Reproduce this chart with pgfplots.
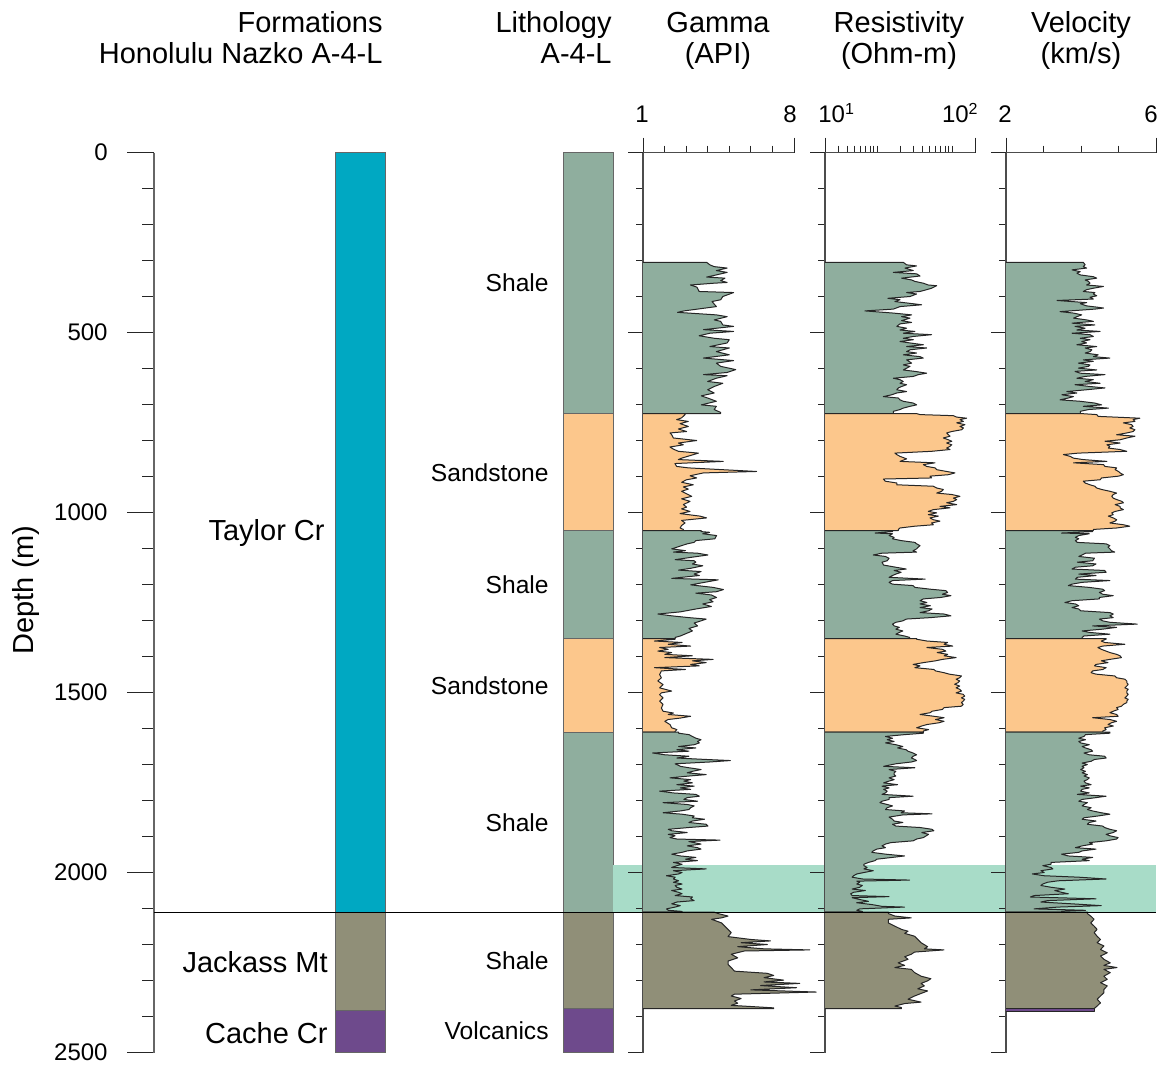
\documentclass[border=0pt]{standalone}
\usepackage{fontspec}
\setmainfont{Liberation Sans}
\usepackage{pgfplots}
\pgfplotsset{compat=1.18}

\definecolor{taylor}{HTML}{00A8C2}
\definecolor{shale}{HTML}{8FAE9E}
\definecolor{sand}{HTML}{FCC78C}
\definecolor{jackass}{HTML}{908F78}
\definecolor{cache}{HTML}{6E4A8C}
\definecolor{band}{HTML}{A8DCC8}

\newcommand\bigfont{\fontsize{14.5pt}{17pt}\selectfont}
\newcommand\midfont{\fontsize{12.3pt}{14pt}\selectfont}
\newcommand\smallfont{\fontsize{12pt}{14pt}\selectfont}

\pgfplotsset{
  noarrows/.style={
    every outer x axis line/.append style={-},
    every outer y axis line/.append style={-},
    every inner x axis line/.append style={-},
    every inner y axis line/.append style={-},
  },
  track/.style={
    anchor=south west, scale only axis, width=75pt, height=450pt,
    ymin=0, ymax=2500, y dir=reverse,
    axis x line*=top, axis y line*=left, noarrows,
    tick align=outside,
    ytick={0,500,...,2500}, minor ytick={0,100,...,2500},
    yticklabels={}, xticklabels={},
    major tick length=7.5pt, minor tick length=3.5pt,
    clip=false,
    axis line style={black!70, line width=0.6pt},
    every tick/.style={black!85, line width=0.5pt},
  },
  logfill/.style={fill=#1, draw=black!85, line width=0.5pt, line join=round},
  box/.style={fill=#1, draw=black!60, line width=0.5pt},
}

\begin{document}
\begin{tikzpicture}
\path[use as bounding box] (0,0) rectangle (582pt,533.5pt);

% depth axis with formation and lithology columns (x in picture units)
\begin{axis}[
  at={(77pt,7.25pt)}, anchor=south west, scale only axis,
  width=501pt, height=450pt,
  xmin=154, xmax=1156, ymin=0, ymax=2500, y dir=reverse,
  axis x line=none, axis y line*=left, noarrows,
  tick align=outside,
  ytick={0,500,...,2500}, minor ytick={0,100,...,2500}, yticklabels={},
  major tick length=13.5pt, minor tick length=6pt,
  axis line style={black!60, line width=0.75pt},
  every tick/.style={black!85, line width=0.5pt},
  clip=false,
]
% formations
\addplot[box=taylor]  coordinates {(335,0)(385,0)(385,2110)(335,2110)(335,0)};
\addplot[box=jackass] coordinates {(335,2110)(385,2110)(385,2383)(335,2383)(335,2110)};
\addplot[box=cache]   coordinates {(335,2383)(385,2383)(385,2500)(335,2500)(335,2383)};
% lithology
\addplot[box=shale]   coordinates {(563,0)(613,0)(613,725)(563,725)(563,0)};
\addplot[box=sand]    coordinates {(563,725)(613,725)(613,1050)(563,1050)(563,725)};
\addplot[box=shale]   coordinates {(563,1050)(613,1050)(613,1350)(563,1350)(563,1050)};
\addplot[box=sand]    coordinates {(563,1350)(613,1350)(613,1610)(563,1610)(563,1350)};
\addplot[box=shale]   coordinates {(563,1610)(613,1610)(613,2110)(563,2110)(563,1610)};
\addplot[box=jackass] coordinates {(563,2110)(613,2110)(613,2378)(563,2378)(563,2110)};
\addplot[box=cache]   coordinates {(563,2378)(613,2378)(613,2500)(563,2500)(563,2378)};
% highlighted interval
\addplot[fill=band, draw=none] coordinates {(613,1980)(1156,1980)(1156,2110)(613,2110)};
\end{axis}

% Gamma (API)
\begin{axis}[track, at={(321.5pt,7.25pt)}, width=75.5pt,
  xmin=1, xmax=8, xtick={1,8}, minor xtick={2,...,7}]
\addplot[logfill=shale] coordinates {(1,305)(3.95,305)(4.1,312)(4.3,317)(4.9,321)(4.4,328)(4.9,333)(4.4,340)(3.95,346)(4.8,349)(4.6,356)(4.9,361)(4.3,363)(3.2,368)(3.5,374)(3.6,386)(5.2,389)(4.7,400)(4.6,409)(4.2,414)(4.4,428)(2.9,440)(2.6,444)(4.4,451)(4.9,456)(4.3,465)(4.6,469)(4.7,479)(5.2,483)(3.8,492)(5.2,497)(4.1,502)(3.6,509)(4.3,516)(5.0,520)(4.9,529)(4.1,539)(5.0,543)(4.4,553)(5.0,562)(3.8,571)(5.2,578)(4.4,585)(4.6,594)(5.3,603)(4.9,611)(3.8,617)(4.9,620)(4.4,627)(4.0,636)(4.7,641)(4.3,650)(4.0,659)(4.3,668)(3.7,676)(4.0,682)(4.4,691)(3.7,701)(4.4,705)(4.3,714)(4.6,722)(4.6,725)(1,725)};
\addplot[logfill=sand] coordinates {(1,725)(2.95,725)(2.95,728)(2.79,737)(2.56,742)(3.10,747)(2.72,753)(3.10,761)(2.64,768)(3.02,775)(2.25,779)(2.33,784)(2.41,793)(3.49,800)(2.64,807)(2.87,812)(2.25,818)(2.41,824)(2.64,830)(3.57,835)(3.18,842)(2.79,849)(2.64,853)(4.72,858)(2.48,864)(2.56,872)(3.10,876)(6.27,886)(3.80,890)(3.18,898)(3.49,904)(3.02,909)(2.79,916)(3.33,923)(2.87,929)(3.10,935)(2.79,941)(3.02,948)(3.26,955)(2.79,962)(3.18,969)(2.87,978)(3.02,985)(2.79,990)(3.18,997)(2.72,1003)(3.64,1010)(3.95,1015)(2.79,1022)(2.95,1029)(2.79,1036)(2.72,1043)(2.87,1047)(2.87,1050)(1,1050)};
\addplot[logfill=shale] coordinates {(1,1050)(3.7,1050)(3.69,1053)(4.09,1055)(3.77,1059)(4.41,1064)(4.33,1073)(3.45,1078)(3.37,1083)(3.05,1087)(2.33,1101)(2.97,1106)(2.41,1110)(3.53,1113)(4.01,1118)(3.29,1124)(2.49,1131)(3.37,1134)(3.45,1138)(3.29,1143)(3.77,1148)(3.21,1155)(2.65,1160)(3.69,1164)(3.37,1171)(3.61,1175)(2.33,1183)(4.49,1187)(3.85,1194)(3.21,1201)(4.25,1208)(4.73,1214)(4.41,1220)(3.45,1224)(4.17,1229)(4.41,1236)(4.09,1242)(4.25,1248)(3.77,1254)(4.17,1261)(3.45,1268)(2.73,1276)(1.69,1282)(2.33,1287)(3.13,1292)(3.93,1296)(3.69,1301)(3.37,1307)(3.53,1315)(3.13,1322)(3.29,1329)(3.05,1335)(2.73,1343)(2.49,1347)(2.49,1350)(1,1350)};
\addplot[logfill=sand] coordinates {(1,1350)(2.49,1350)(2.49,1352)(1.53,1357)(2.81,1361)(2.17,1366)(3.21,1371)(1.77,1375)(2.17,1380)(1.69,1385)(2.33,1389)(2.01,1394)(3.29,1398)(2.01,1403)(4.25,1408)(3.29,1412)(3.93,1417)(3.21,1422)(3.61,1426)(1.53,1431)(2.97,1436)(1.85,1440)(1.77,1450)(1.85,1459)(1.69,1468)(1.93,1478)(1.77,1487)(2.33,1496)(1.85,1501)(1.77,1506)(1.93,1515)(1.77,1524)(1.93,1533)(1.85,1543)(1.93,1552)(2.41,1557)(2.17,1561)(3.21,1566)(2.73,1571)(2.17,1575)(2.01,1580)(2.25,1589)(2.33,1598)(2.57,1603)(2.49,1608)(2.49,1610)(1,1610)};
\addplot[logfill=shale] coordinates {(1,1610)(2.65,1610)(2.65,1613)(3.13,1617)(3.29,1622)(3.45,1627)(3.69,1631)(3.53,1636)(3.61,1640)(3.37,1645)(2.65,1650)(3.45,1654)(2.57,1659)(3.13,1663)(1.45,1668)(2.01,1673)(3.13,1677)(2.57,1682)(3.93,1686)(5.05,1689)(4.09,1693)(2.49,1698)(2.73,1705)(3.13,1709)(3.69,1714)(3.29,1719)(3.05,1723)(3.93,1728)(3.13,1732)(2.25,1737)(3.21,1742)(2.89,1746)(3.29,1751)(2.57,1756)(3.37,1760)(2.73,1765)(3.21,1769)(1.77,1774)(2.41,1779)(3.45,1783)(3.61,1788)(3.05,1792)(2.89,1797)(3.53,1802)(1.93,1806)(3.05,1811)(3.37,1815)(3.21,1820)(3.13,1825)(2.73,1829)(1.93,1834)(2.81,1838)(3.37,1843)(3.29,1848)(3.85,1852)(3.29,1857)(3.13,1861)(3.93,1866)(4.01,1871)(3.13,1875)(2.17,1880)(2.33,1884)(3.05,1889)(2.17,1894)(2.49,1898)(2.25,1903)(2.57,1907)(4.57,1910)(3.13,1914)(3.69,1921)(3.05,1926)(3.53,1931)(3.69,1935)(3.05,1940)(2.81,1944)(2.33,1949)(2.73,1954)(3.45,1958)(2.97,1963)(3.53,1967)(2.41,1972)(2.81,1977)(2.57,1981)(2.33,1986)(3.93,1990)(2.41,1995)(2.81,2000)(2.65,2004)(2.09,2009)(2.49,2013)(2.41,2018)(2.65,2023)(2.41,2027)(2.81,2032)(2.49,2036)(2.57,2041)(2.81,2046)(2.33,2050)(2.65,2055)(2.81,2059)(2.49,2064)(3.29,2068)(3.21,2073)(3.37,2078)(2.57,2082)(2.33,2087)(2.73,2092)(2.49,2096)(2.09,2101)(2.17,2105)(2.81,2108)(2.81,2110)(1,2110)};
\addplot[logfill=jackass] coordinates {(1,2110)(4.3,2110)(4.48,2114)(4.94,2121)(4.64,2126)(4.18,2130)(4.64,2140)(4.79,2149)(4.94,2158)(5.09,2167)(4.94,2178)(6.0,2186)(6.91,2190)(5.55,2195)(6.76,2200)(5.39,2206)(6.61,2212)(8.73,2215)(5.70,2218)(5.09,2227)(5.39,2237)(4.94,2246)(4.94,2255)(5.09,2264)(5.24,2274)(6.76,2280)(7.06,2286)(6.61,2292)(7.52,2299)(6.61,2304)(8.27,2308)(6.45,2314)(8.12,2320)(6.0,2326)(9.03,2332)(5.24,2338)(5.09,2343)(5.55,2350)(5.24,2357)(5.39,2363)(5.09,2369)(7.06,2376)(7.06,2378)(1,2378)};
\end{axis}

% Resistivity (Ohm-m), logarithmic
\begin{axis}[track, at={(412.5pt,7.25pt)},
  xmode=log, xmin=2, xmax=200, xtick={2,200},
  minor xtick={3,4,5,6,7,8,9,10,20,30,40,50,60,70,80,90,100}]
\addplot[logfill=shale] coordinates {(2,305)(22.1,305)(24.5,312)(33.3,315)(23.3,321)(30.1,328)(16.3,333)(33.3,337)(37.0,343)(21,349)(28.6,354)(31.6,358)(40.9,363)(47.7,368)(61.7,370)(52.8,377)(45.4,381)(37.0,386)(24.5,389)(33.3,393)(27.2,400)(13.8,405)(20.0,409)(17.1,414)(27.2,419)(38.9,423)(20.0,428)(16.3,435)(6.8,440)(16.3,446)(28.6,451)(21,456)(27.2,460)(21,467)(28.6,472)(20.0,476)(18.1,483)(24.5,488)(20.0,493)(31.6,497)(22.1,502)(52.8,506)(30.1,511)(22.1,516)(30.1,520)(20.0,525)(27.2,529)(40.9,534)(24.5,539)(45.4,543)(27.2,548)(24.5,553)(33.3,557)(22.1,562)(37.0,567)(40.9,571)(24.5,576)(28.6,585)(22.1,590)(27.2,594)(24.5,599)(22.1,604)(31.6,608)(45.4,613)(35.1,617)(30.1,622)(16.3,627)(20.0,631)(22.1,636)(20.0,641)(24.5,645)(21,650)(19.0,654)(18.1,659)(24.5,664)(18.1,668)(15.5,673)(12.0,678)(19.0,682)(20.0,687)(22.1,691)(30.1,696)(33.3,701)(27.2,705)(22.1,710)(20.0,714)(16.3,719)(16.3,725)(2,725)};
\addplot[logfill=sand] coordinates {(2,725)(33,725)(37.0,728)(103,731)(114,735)(155,738)(126,742)(140,747)(114,751)(147,756)(126,761)(140,765)(133,770)(98,775)(83.8,779)(88.4,784)(92.9,788)(75.6,793)(88.4,798)(98,802)(83.8,807)(98,812)(92.9,816)(83.8,821)(92.9,825)(52.8,830)(17.1,835)(18.1,839)(20.0,844)(24.5,851)(20.0,858)(58.6,862)(40.9,867)(45.4,872)(58.6,876)(61.7,881)(83.8,886)(108,890)(88.4,895)(50.2,899)(52.8,904)(12.0,907)(12.7,913)(18.1,918)(18.1,923)(55.6,927)(61.7,932)(75.6,936)(71.8,941)(61.7,946)(98,950)(126,955)(103,960)(114,964)(103,969)(83.8,973)(114,978)(68.2,983)(92.9,987)(55.6,992)(47.7,997)(61.7,1001)(47.7,1006)(64.9,1010)(50.2,1015)(55.6,1020)(68.2,1024)(52.8,1029)(55.6,1034)(31.6,1038)(20.0,1043)(19.0,1047)(19.0,1050)(2,1050)};
\addplot[logfill=shale] coordinates {(2,1050)(15.9,1050)(15.9,1053)(9.3,1057)(15.9,1059)(14.3,1064)(16.7,1069)(15.9,1073)(20.7,1078)(31.6,1083)(33.3,1087)(37.0,1092)(35.1,1096)(33.3,1101)(29.9,1106)(33.3,1110)(11.5,1113)(8.8,1118)(12.8,1122)(14.3,1127)(13.5,1134)(11.5,1138)(12.1,1146)(17.6,1152)(24.2,1157)(16.7,1161)(20.7,1166)(17.6,1171)(15.9,1175)(14.3,1180)(43.3,1185)(15.9,1189)(14.3,1194)(15.9,1199)(29.9,1203)(31.6,1208)(50.7,1213)(81.7,1217)(86.3,1222)(73.5,1227)(95.7,1231)(69.8,1236)(41.0,1240)(37.0,1245)(45.7,1250)(37.0,1254)(50.7,1259)(37.0,1264)(53.5,1268)(48.1,1273)(37.0,1278)(77.4,1282)(95.7,1287)(50.7,1292)(24.2,1296)(21.8,1301)(17.6,1305)(15.9,1310)(16.7,1315)(19.6,1319)(17.6,1324)(21.8,1329)(19.6,1333)(17.6,1338)(23.0,1343)(26.9,1347)(26.9,1350)(2,1350)};
\addplot[logfill=sand] coordinates {(2,1350)(33.3,1350)(33.3,1352)(45.7,1357)(86.3,1361)(77.4,1366)(101,1371)(45.7,1375)(73.5,1380)(81.7,1385)(62.7,1389)(86.3,1394)(77.4,1398)(112,1403)(73.5,1408)(59.5,1412)(41.0,1417)(29.9,1422)(37.0,1426)(31.6,1431)(56.5,1436)(59.5,1440)(77.4,1445)(90.9,1449)(132,1454)(125,1459)(112,1463)(125,1468)(118,1473)(107,1477)(125,1482)(112,1487)(125,1491)(132,1496)(112,1501)(139,1505)(146,1510)(132,1515)(146,1519)(139,1524)(132,1528)(139,1533)(132,1538)(77.4,1542)(73.5,1547)(53.5,1552)(50.7,1556)(37.0,1561)(56.5,1566)(77.4,1570)(59.5,1575)(77.4,1580)(66.2,1584)(45.7,1589)(39.0,1593)(33.3,1598)(48.1,1603)(41.0,1607)(41.0,1610)(2,1610)};
\addplot[logfill=shale] coordinates {(2,1610)(41.0,1610)(41.0,1613)(23.0,1617)(12.8,1622)(15.9,1627)(13.5,1631)(16.7,1636)(12.8,1640)(17.6,1645)(21.8,1650)(18.6,1654)(24.2,1659)(25.5,1663)(29.9,1668)(33.3,1673)(29.9,1677)(28.4,1682)(31.6,1686)(33.3,1689)(28.4,1693)(17.6,1698)(12.1,1705)(31.6,1709)(14.3,1714)(17.6,1719)(16.7,1723)(16.7,1728)(17.6,1732)(14.3,1737)(16.7,1742)(14.3,1746)(12.1,1751)(18.6,1756)(11.5,1760)(14.3,1765)(12.1,1769)(13.5,1774)(12.8,1779)(11.5,1783)(29.9,1788)(14.3,1792)(14.3,1797)(11.5,1802)(10.8,1806)(13.5,1811)(15.9,1815)(13.5,1820)(12.8,1825)(23.0,1829)(20.7,1834)(53.5,1837)(21.8,1840)(14.3,1846)(15.9,1852)(16.7,1857)(21.8,1861)(15.9,1866)(17.6,1871)(37.0,1875)(53.5,1880)(56.5,1884)(39.0,1889)(48.1,1894)(41.0,1903)(33.3,1907)(29.9,1912)(15.1,1917)(12.8,1921)(11.5,1926)(12.8,1931)(9.8,1935)(8.8,1940)(8.4,1944)(12.8,1949)(23.0,1954)(15.9,1958)(9.8,1963)(9.3,1967)(7.6,1972)(6.6,1977)(6.6,1981)(7.3,1986)(6.6,1990)(8.8,1995)(6.6,2000)(5.3,2004)(4.8,2009)(4.6,2013)(6.3,2018)(26.9,2021)(5.3,2024)(5.8,2027)(5.3,2032)(6.3,2036)(5.8,2041)(4.6,2046)(6.9,2050)(4.8,2055)(4.4,2059)(4.6,2064)(14.3,2067)(4.6,2070)(5.8,2075)(7.6,2080)(5.3,2084)(8.4,2089)(11.5,2094)(23.0,2096)(5.8,2101)(5.3,2105)(6.3,2108)(6.3,2110)(2,2110)};
\addplot[logfill=jackass] coordinates {(2,2110)(14.0,2110)(14.0,2114)(17.1,2121)(28.3,2126)(14.0,2130)(14.0,2140)(17.1,2149)(20.9,2158)(25.6,2163)(23.1,2169)(31.3,2177)(34.5,2186)(38.2,2195)(46.7,2206)(42.2,2212)(77.1,2215)(31.3,2221)(28.3,2227)(23.1,2234)(25.6,2241)(18.9,2251)(23.1,2258)(17.1,2264)(28.3,2269)(31.3,2278)(38.2,2288)(51.6,2295)(46.7,2301)(38.2,2308)(42.2,2315)(34.5,2323)(46.7,2329)(38.2,2336)(31.3,2343)(25.6,2352)(38.2,2360)(23.1,2364)(17.1,2371)(20.9,2375)(20.9,2378)(2,2378)};
\end{axis}

% Velocity (km/s)
\begin{axis}[track, at={(503pt,7.25pt)},
  xmin=2, xmax=6, xtick={2,6}, minor xtick={3,4,5}]
\addplot[logfill=shale] coordinates {(2,305)(4.06,305)(4.11,312)(4.06,317)(4.15,321)(3.76,326)(3.98,331)(3.89,335)(3.98,340)(4.33,345)(4.42,349)(4.11,354)(4.20,358)(4.24,363)(4.15,368)(4.60,372)(4.33,377)(4.15,381)(4.06,386)(4.37,389)(4.33,393)(4.42,398)(4.24,402)(4.33,407)(3.36,411)(4.15,417)(3.98,420)(4.15,426)(4.46,430)(4.60,432)(4.37,435)(3.44,442)(3.80,446)(4.02,451)(3.89,456)(3.80,460)(4.15,465)(4.33,469)(3.76,474)(4.37,479)(3.84,483)(4.11,488)(3.89,493)(4.51,497)(3.76,502)(4.24,506)(4.33,511)(3.98,516)(4.24,520)(4.02,525)(4.15,529)(3.89,534)(4.42,539)(4.11,543)(4.29,548)(4.24,553)(4.11,557)(4.46,562)(4.33,567)(4.77,571)(4.06,576)(4.33,580)(3.93,585)(4.24,590)(4.20,594)(3.93,599)(4.42,604)(3.84,608)(3.98,613)(4.64,617)(4.11,622)(3.89,627)(4.33,631)(4.11,636)(4.51,641)(3.84,645)(4.24,650)(4.64,654)(4.15,659)(3.62,664)(3.89,668)(3.49,673)(3.80,678)(3.66,682)(3.44,687)(3.98,691)(4.37,696)(4.55,701)(4.06,705)(4.73,710)(4.20,714)(3.98,719)(3.98,725)(2,725)};
\addplot[logfill=sand] coordinates {(2,725)(3.98,725)(4.42,728)(4.46,733)(5.57,738)(5.39,742)(5.44,747)(5.13,751)(5.35,756)(5.39,761)(5.30,765)(5.44,770)(5.39,775)(5.22,779)(4.95,784)(5.44,788)(5.22,793)(5.04,798)(4.64,802)(5.04,807)(4.69,812)(4.77,816)(4.73,821)(5.04,825)(5.22,830)(3.93,835)(3.53,839)(3.71,844)(3.80,849)(4.06,853)(4.69,858)(3.80,862)(4.60,867)(4.64,872)(4.95,876)(4.91,881)(5.00,886)(5.04,890)(5.13,895)(5.00,899)(4.55,904)(4.51,909)(4.06,913)(4.11,918)(4.24,923)(4.37,927)(4.42,932)(4.55,936)(4.77,941)(4.95,946)(4.86,950)(4.82,955)(4.86,960)(4.95,964)(5.09,969)(5.13,973)(4.91,978)(5.04,983)(5.04,987)(5.13,992)(4.91,997)(4.82,1001)(4.86,1006)(4.73,1010)(4.86,1015)(4.95,1020)(4.91,1024)(4.77,1029)(5.13,1034)(5.30,1038)(4.95,1043)(4.33,1047)(4.33,1050)(2,1050)};
\addplot[logfill=shale] coordinates {(2,1050)(4.31,1050)(4.31,1053)(3.48,1057)(4.22,1059)(3.94,1064)(3.85,1069)(3.94,1073)(3.85,1078)(3.90,1083)(4.67,1087)(4.77,1092)(4.72,1096)(4.77,1101)(4.81,1106)(4.90,1110)(4.12,1113)(4.03,1118)(3.94,1122)(4.36,1127)(4.31,1134)(3.90,1138)(4.40,1143)(4.31,1148)(3.85,1152)(3.76,1157)(4.63,1161)(4.67,1166)(3.94,1171)(4.40,1175)(3.90,1180)(3.85,1185)(4.77,1189)(4.03,1194)(3.76,1199)(3.66,1203)(4.22,1208)(4.58,1213)(4.63,1217)(4.49,1222)(4.58,1227)(4.86,1231)(4.49,1236)(4.49,1240)(3.76,1245)(3.57,1250)(3.85,1254)(3.94,1259)(3.76,1264)(3.94,1268)(3.99,1273)(4.77,1278)(4.86,1282)(4.77,1287)(4.86,1292)(4.49,1296)(4.58,1301)(4.77,1305)(5.50,1310)(4.31,1315)(4.95,1319)(4.58,1324)(4.03,1329)(4.22,1333)(4.77,1338)(4.08,1343)(4.03,1347)(4.03,1350)(2,1350)};
\addplot[logfill=sand] coordinates {(2,1350)(4.67,1350)(4.67,1352)(4.54,1357)(4.63,1361)(5.17,1366)(4.58,1371)(4.45,1375)(4.54,1380)(4.67,1385)(4.77,1389)(4.95,1394)(5.04,1398)(5.08,1403)(4.77,1408)(4.54,1412)(4.72,1417)(4.40,1422)(4.36,1426)(4.67,1431)(4.58,1436)(4.31,1440)(4.27,1445)(4.40,1449)(4.90,1454)(4.95,1459)(5.17,1463)(5.22,1468)(5.22,1473)(5.26,1477)(5.22,1482)(5.17,1487)(5.26,1491)(5.22,1496)(5.22,1501)(5.26,1505)(5.22,1510)(5.17,1515)(5.26,1519)(5.22,1524)(5.22,1528)(5.13,1533)(5.08,1538)(4.95,1542)(4.99,1547)(4.86,1552)(4.77,1556)(4.95,1561)(4.99,1566)(4.31,1570)(4.77,1575)(4.95,1580)(4.81,1584)(4.72,1589)(4.86,1593)(4.63,1598)(4.67,1603)(4.58,1607)(4.58,1610)(2,1610)};
\addplot[logfill=shale] coordinates {(2,1610)(4.77,1610)(4.77,1613)(4.12,1617)(4.08,1622)(3.94,1627)(4.12,1631)(3.94,1636)(3.99,1640)(4.22,1645)(4.03,1650)(4.12,1654)(4.27,1659)(4.31,1663)(4.08,1668)(4.22,1673)(4.63,1677)(4.67,1682)(4.36,1686)(4.27,1691)(4.03,1696)(4.17,1700)(4.03,1705)(4.08,1709)(3.99,1714)(4.12,1719)(4.03,1723)(4.17,1728)(4.08,1732)(4.22,1737)(4.17,1742)(4.08,1746)(4.12,1751)(4.27,1756)(3.99,1760)(4.22,1765)(4.03,1769)(3.99,1774)(4.22,1779)(3.90,1783)(4.67,1788)(4.40,1792)(4.03,1797)(3.94,1802)(4.17,1806)(4.08,1811)(4.03,1815)(4.27,1820)(4.17,1825)(4.31,1829)(4.54,1834)(4.77,1838)(4.45,1843)(4.08,1848)(4.03,1852)(4.40,1857)(4.22,1861)(4.17,1866)(4.58,1871)(4.63,1875)(4.77,1880)(4.95,1884)(4.86,1889)(4.67,1894)(4.77,1898)(4.99,1903)(4.95,1907)(4.67,1912)(4.22,1917)(4.31,1921)(4.03,1926)(3.85,1931)(4.40,1935)(4.03,1940)(3.94,1944)(3.48,1949)(3.66,1954)(4.31,1958)(4.03,1963)(4.22,1967)(3.20,1972)(3.20,1977)(2.98,1981)(3.20,1986)(3.25,1990)(2.93,1995)(3.02,2000)(2.70,2004)(3.02,2009)(3.94,2013)(4.67,2018)(3.39,2023)(3.11,2027)(2.98,2032)(2.93,2036)(3.20,2041)(3.57,2046)(3.30,2050)(3.48,2055)(3.66,2059)(2.75,2064)(2.65,2068)(4.40,2073)(3.11,2078)(2.93,2082)(3.76,2087)(4.54,2092)(3.39,2096)(2.75,2101)(4.12,2105)(3.48,2108)(3.48,2110)(2,2110)};
\addplot[logfill=jackass] coordinates {(2,2110)(4.17,2110)(4.17,2114)(4.26,2121)(4.35,2130)(4.26,2140)(4.35,2149)(4.43,2158)(4.35,2167)(4.43,2177)(4.52,2186)(4.43,2195)(4.61,2204)(4.52,2214)(4.70,2223)(4.52,2232)(4.61,2241)(4.78,2251)(4.61,2258)(4.96,2264)(4.61,2269)(4.78,2278)(4.61,2288)(4.70,2297)(4.52,2306)(4.70,2315)(4.61,2325)(4.61,2334)(4.52,2343)(4.43,2352)(4.52,2362)(4.43,2371)(4.35,2378)(2,2378)};
\addplot[logfill=cache] coordinates {(2,2378)(4.35,2378)(4.35,2385)(2,2385)};
\end{axis}

% boundary line and all text, in the depth-axis coordinate frame
\begin{axis}[
  at={(77pt,7.25pt)}, anchor=south west, scale only axis,
  width=501pt, height=450pt,
  xmin=154, xmax=1156, ymin=0, ymax=2500, y dir=reverse,
  hide axis, clip=false,
]
\addplot[black, line width=0.6pt] coordinates {(154,2110)(1156,2110)};

% column headers
\node[anchor=base east, font=\bigfont, inner sep=0pt] at (383,-332) {Formations};
\node[anchor=base east, font=\bigfont, inner sep=0pt] at (383,-246) {Honolulu Nazko A-4-L};
\node[anchor=base east, font=\bigfont, inner sep=0pt] at (612,-332) {Lithology};
\node[anchor=base east, font=\bigfont, inner sep=0pt] at (612,-246) {A-4-L};
\node[anchor=base, font=\bigfont, inner sep=0pt] at (718,-332) {Gamma};
\node[anchor=base, font=\bigfont, inner sep=0pt] at (718,-246) {(API)};
\node[anchor=base, font=\bigfont, inner sep=0pt] at (899,-332) {Resistivity};
\node[anchor=base, font=\bigfont, inner sep=0pt] at (899,-246) {(Ohm-m)};
\node[anchor=base, font=\bigfont, inner sep=0pt] at (1081,-332) {Velocity};
\node[anchor=base, font=\bigfont, inner sep=0pt] at (1081,-246) {(km/s)};

% track scale labels
\node[anchor=base, font=\smallfont, inner sep=0pt] at (642,-82) {1};
\node[anchor=base east, font=\smallfont, inner sep=0pt] at (797,-82) {8};
\node[anchor=base west, font=\smallfont, inner sep=0pt] at (818,-82) {10\textsuperscript{1}};
\node[anchor=base east, font=\smallfont, inner sep=0pt] at (979,-82) {10\textsuperscript{2}};
\node[anchor=base, font=\smallfont, inner sep=0pt] at (1005,-82) {2};
\node[anchor=base east, font=\smallfont, inner sep=0pt] at (1158,-82) {6};

% depth labels
\node[anchor=east, font=\smallfont, inner sep=0pt] at (108,0) {0};
\node[anchor=east, font=\smallfont, inner sep=0pt] at (108,500) {500};
\node[anchor=east, font=\smallfont, inner sep=0pt] at (108,1000) {1000};
\node[anchor=east, font=\smallfont, inner sep=0pt] at (108,1500) {1500};
\node[anchor=east, font=\smallfont, inner sep=0pt] at (108,2000) {2000};
\node[anchor=east, font=\smallfont, inner sep=0pt] at (108,2500) {2500};
\node[rotate=90, font=\bigfont, inner sep=0pt] at (26,1215) {Depth (m)};

% formation names
\node[anchor=east, font=\bigfont, inner sep=0pt] at (325,1057) {Taylor Cr};
\node[anchor=east, font=\bigfont, inner sep=0pt] at (328,2249) {Jackass Mt};
\node[anchor=east, font=\bigfont, inner sep=0pt] at (328,2446) {Cache Cr};

% lithology names
\node[anchor=east, font=\midfont, inner sep=0pt] at (549,362) {Shale};
\node[anchor=east, font=\midfont, inner sep=0pt] at (549,890) {Sandstone};
\node[anchor=east, font=\midfont, inner sep=0pt] at (549,1201) {Shale};
\node[anchor=east, font=\midfont, inner sep=0pt] at (549,1482) {Sandstone};
\node[anchor=east, font=\midfont, inner sep=0pt] at (549,1863) {Shale};
\node[anchor=east, font=\midfont, inner sep=0pt] at (549,2246) {Shale};
\node[anchor=east, font=\midfont, inner sep=0pt] at (549,2440) {Volcanics};
\end{axis}
\end{tikzpicture}
\end{document}
